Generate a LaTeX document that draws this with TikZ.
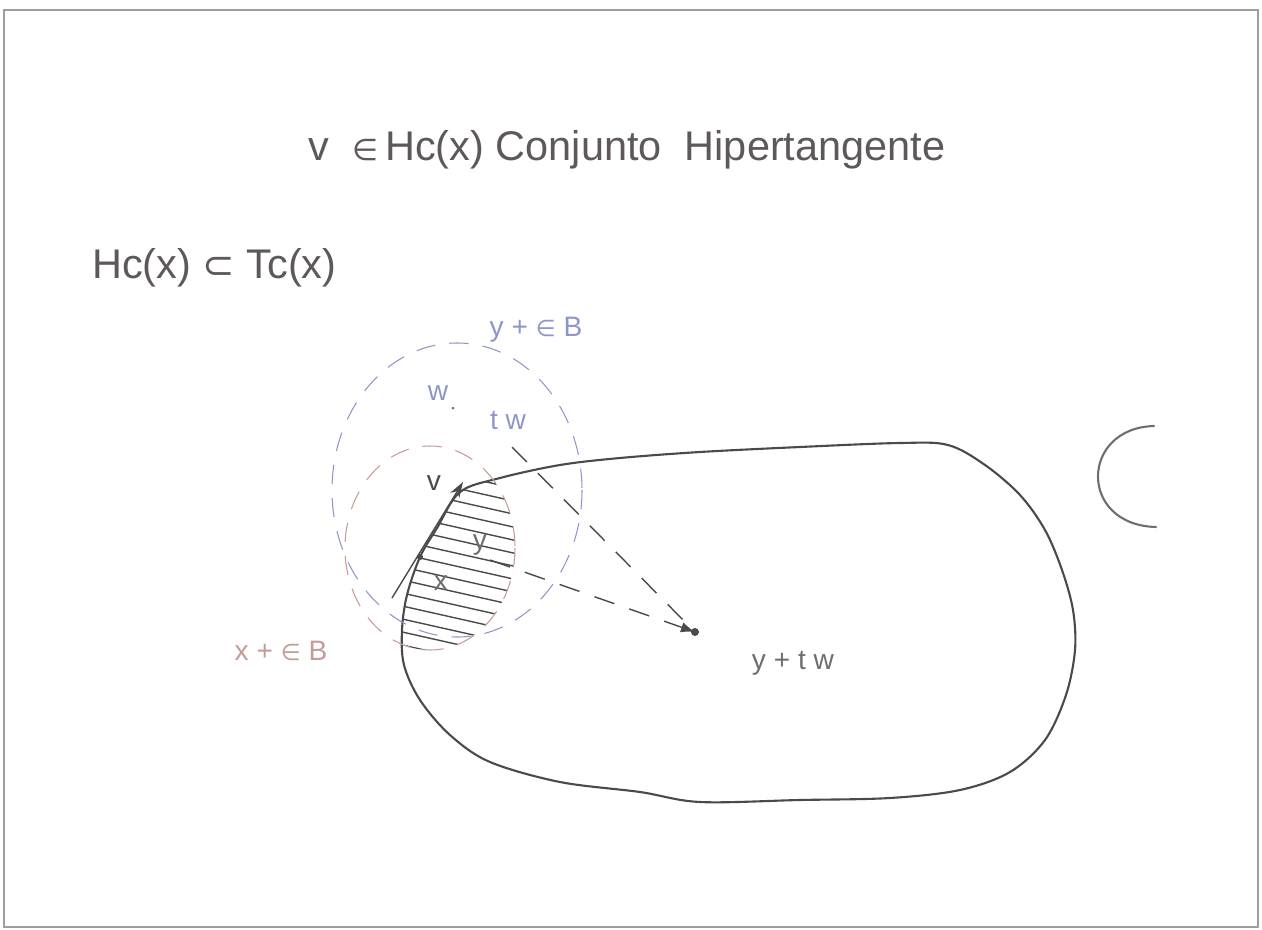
\documentclass[tikz,border=0pt]{standalone}
\usepackage{fontspec}
\setmainfont{Liberation Sans}
\newfontfamily\symFont{DejaVu Sans}
\usetikzlibrary{arrows.meta}

\tikzset{
    titleText/.style={textColour, font=\fontsize{23.6}{28}\selectfont},
    labelText/.style={font=\fontsize{16}{19}\selectfont, inner sep=0pt},
    ballLine/.style={line width=0.6pt, dash pattern=on 11pt off 8pt},
    rayLine/.style={curveColour, line width=0.8pt, dash pattern=on 12pt off 9pt}
}

\begin{document}
\begin{tikzpicture}[x=0.02cm, y=-0.02cm]
    \definecolor{frameColour}{HTML}{A09CA0}
    \definecolor{textColour}{HTML}{5E585D}
    \definecolor{curveColour}{HTML}{4A4A4A}
    \definecolor{greyColour}{HTML}{6E6E6E}
    \definecolor{blueColour}{HTML}{8E96C8}
    \definecolor{brownColour}{HTML}{C49C96}

    \def\blobPath{plot[smooth cycle, tension=0.55] coordinates {
        (460,492) (500,478) (560,465) (620,458) (700,452) (800,447) (900,443)
        (948,445) (985,465) (1020,495) (1045,530) (1062,570) (1073,610)
        (1075,650) (1066,695) (1045,740) (1010,772) (960,790) (890,798)
        (800,800) (700,802) (640,792) (560,782) (490,762) (450,735) (420,700)
        (404,665) (402,630) (407,595) (420,557) (437,528)}}

    \useasboundingbox (0,0) rectangle (1262,930);
    \draw[frameColour, line width=1.2pt] (4,10) rectangle (1258,927);

    \node[titleText] (title) at (627,150)
        {v\ \ {\symFont\fontsize{17}{20}\selectfont ∈}\,Hc(x) Conjunto\ \ Hipertangente};
    \node[titleText, anchor=west] (subset) at (86,268)
        {Hc(x) {\symFont\fontsize{22}{26}\selectfont ⊂} Tc(x)};

    % the set C and the piece of another one
    \draw[curveColour, line width=1.2pt] \blobPath;
    \draw[greyColour, line width=1.2pt, line cap=round]
        (1154,426) .. controls (1080,428) and (1078,525) .. (1156,527);

    % hatched part of C inside x + eB
    \begin{scope}
        \clip \blobPath;
        \clip (430,548) ellipse [x radius=85, y radius=102];
        \foreach \k in {0,...,16}
            \draw[curveColour, line width=0.8pt] (380,458+13*\k) -- (540,494+13*\k);
    \end{scope}

    % the two balls
    \draw[ballLine, blueColour] (457,490) ellipse [x radius=125, y radius=147];
    \draw[ballLine, brownColour] (430,548) ellipse [x radius=85, y radius=102];

    \coordinate (x) at (420,557);
    \coordinate (y) at (490,560);
    \coordinate (w) at (453,408);
    \coordinate (tw) at (512,447);
    \coordinate (ytw) at (695,632);
    \coordinate (vTail) at (392,598);
    \coordinate (vTip) at (463,482);

    \draw[curveColour, line width=0.8pt, -{Stealth[length=9pt, width=6pt]}] (vTail) -- (vTip);
    \draw[rayLine] (tw) -- (ytw);
    \draw[rayLine, -{Latex[length=8pt, width=6pt]}] (y) -- (ytw);

    \fill[curveColour] (ytw) circle [radius=4];
    \fill[curveColour] (x) circle [radius=3];
    \fill[greyColour] (w) circle [radius=1.5];

    \node[labelText, blueColour] (yBall) at (536,330) {y + {\symFont\fontsize{13}{16}\selectfont ∈} B};
    \node[labelText, brownColour] (xBall) at (281,651) {x + {\symFont\fontsize{13}{16}\selectfont ∈} B};
    \node[labelText, greyColour] (ytwLabel) at (793,663) {y + t w};
    \node[labelText, blueColour] (wLabel) at (438,393) {w};
    \node[labelText, blueColour] (twLabel) at (508,421) {t w};
    \node[labelText, curveColour] (vLabel) at (434,483) {v};
    \node[labelText, greyColour] (xLabel) at (441,583) {x};
    \node[labelText, greyColour] (yLabel) at (480,545) {y};

\end{tikzpicture}
\end{document}
